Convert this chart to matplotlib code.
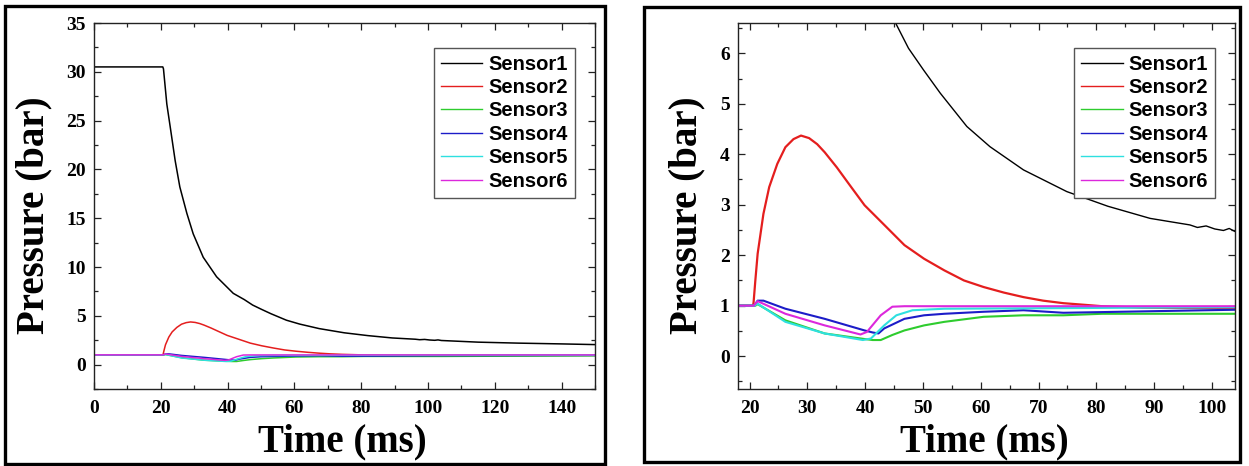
import matplotlib
matplotlib.use("Agg")
import matplotlib.pyplot as plt
from matplotlib.patches import Rectangle
from matplotlib.ticker import MultipleLocator

# ---- data ----
labels = ["Sensor1", "Sensor2", "Sensor3", "Sensor4", "Sensor5", "Sensor6"]
colors = ["#000000", "#e41e1e", "#2ecc2e", "#1c1cc8", "#2ee0e0", "#dc28dc"]

t1 = [0, 20.6, 20.8, 21.8, 22.8, 24.3, 25.7, 27.8, 29.7, 32.7, 36.7, 41.7, 45,
      47.5, 50.1, 53, 57.6, 61.6, 67.4, 74.9, 82, 89.3, 93, 96.2, 97.5, 99,
      100.5, 102, 103, 104, 115, 127, 140, 150]
p1 = [30.5, 30.5, 30.3, 26.7, 24.4, 20.9, 18.2, 15.5, 13.4, 11.0, 9.0, 7.3,
      6.66, 6.1, 5.67, 5.21, 4.55, 4.15, 3.69, 3.26, 2.97, 2.73, 2.66, 2.6,
      2.55, 2.58, 2.52, 2.49, 2.53, 2.47, 2.3, 2.2, 2.12, 2.05]

t2 = [0, 20.6, 20.7, 21.0, 21.4, 22.4, 23.4, 24.8, 26.2, 27.6, 28.9, 30.3,
      31.7, 33.0, 35.1, 37.2, 39.9, 43.4, 46.8, 50.2, 53.7, 57.1, 60.5, 64.0,
      67.4, 70.8, 74.3, 77.7, 81.0, 88.0, 104, 150]
p2 = [1.0, 1.0, 1.07, 1.5, 2.03, 2.82, 3.35, 3.81, 4.14, 4.3, 4.37, 4.32, 4.2,
      4.04, 3.74, 3.41, 2.99, 2.59, 2.2, 1.93, 1.7, 1.5, 1.37, 1.26, 1.17, 1.1,
      1.05, 1.02, 0.99, 0.96, 0.95, 0.95]

t3 = [0, 21.0, 21.4, 26.2, 33.0, 39.9, 41.3, 42.7, 44.7, 46.8, 50.2, 53.7,
      60.5, 67.4, 74.3, 81.0, 104, 150]
p3 = [1.0, 1.0, 1.03, 0.71, 0.45, 0.34, 0.32, 0.32, 0.42, 0.51, 0.61, 0.68,
      0.78, 0.81, 0.81, 0.84, 0.84, 0.9]

t4 = [0, 20.8, 21.4, 22.4, 26.2, 33.0, 39.9, 41.3, 42.3, 43.3, 46.8, 50.2,
      53.7, 60.5, 67.4, 74.3, 104, 150]
p4 = [1.0, 1.0, 1.1, 1.1, 0.94, 0.74, 0.51, 0.47, 0.45, 0.55, 0.74, 0.81,
      0.84, 0.88, 0.91, 0.86, 0.92, 0.95]

t5 = [0, 20.8, 21.4, 26.2, 33.0, 39.6, 41.0, 43.3, 45.4, 48.2, 53.7, 104, 150]
p5 = [1.0, 1.0, 1.04, 0.68, 0.45, 0.32, 0.35, 0.61, 0.81, 0.91, 0.94, 0.97,
      0.97]

t6 = [0, 20.7, 21.4, 26.2, 33.0, 39.2, 40.3, 42.7, 44.7, 46.8, 104, 150]
p6 = [1.0, 1.0, 1.09, 0.84, 0.61, 0.43, 0.48, 0.81, 0.98, 0.99, 0.99, 0.99]

series_t = [t1, t2, t3, t4, t5, t6]
series_p = [p1, p2, p3, p4, p5, p6]

W, H = 1249, 466
fig = plt.figure(figsize=(W / 100, H / 100), dpi=100)

serif = "Liberation Serif"
sans = "Liberation Sans"

# panel frames
fig.patches.append(Rectangle((5 / W, 1 - 464 / H), 600 / W, 458 / H,
                             transform=fig.transFigure, fill=False,
                             lw=2.4, ec="black", zorder=0))
fig.patches.append(Rectangle((644 / W, 1 - 462 / H), 596 / W, 455 / H,
                             transform=fig.transFigure, fill=False,
                             lw=2.4, ec="black", zorder=0))

axL = fig.add_axes([94 / W, 1 - 389 / H, (595 - 94) / W, 366 / H])
axR = fig.add_axes([738 / W, 1 - 389 / H, (1235 - 738) / W, 366 / H])

lwL = [1.1, 1.1, 1.1, 1.1, 1.1, 1.1]
lwR = [1.0, 1.6, 1.5, 1.5, 1.5, 1.5]

for ax, lws in ((axL, lwL), (axR, lwR)):
    for t, p, c, lab, lw in zip(series_t, series_p, colors, labels, lws):
        ax.plot(t, p, color=c, lw=lw, label=lab)

axL.set_xlim(0, 150)
axL.set_ylim(-2.5, 35)
axL.xaxis.set_major_locator(MultipleLocator(20))
axL.xaxis.set_minor_locator(MultipleLocator(10))
axL.yaxis.set_major_locator(MultipleLocator(5))
axL.yaxis.set_minor_locator(MultipleLocator(2.5))

axR.set_xlim(18, 104)
axR.set_ylim(-0.65, 6.6)
axR.xaxis.set_major_locator(MultipleLocator(10))
axR.xaxis.set_minor_locator(MultipleLocator(5))
axR.yaxis.set_major_locator(MultipleLocator(1))
axR.yaxis.set_minor_locator(MultipleLocator(0.5))

for ax, ylx in ((axL, -0.12), (axR, -0.103)):
    for s in ax.spines.values():
        s.set_linewidth(1.0)
        s.set_color("#222222")
    ax.tick_params(which="both", direction="in", top=True, right=True,
                   color="#222222", width=0.9)
    ax.tick_params(which="major", length=5)
    ax.tick_params(which="minor", length=3)
    ax.tick_params(axis="x", which="major", pad=8)
    ax.tick_params(axis="y", which="major", pad=6)
    for lbl in ax.get_xticklabels() + ax.get_yticklabels():
        lbl.set_fontfamily(serif)
        lbl.set_fontweight("bold")
        lbl.set_fontsize(14)
    ax.set_xlabel("Time (ms)", fontfamily=serif, fontweight="bold",
                  fontsize=28)
    ax.set_ylabel("Pressure (bar)", fontfamily=serif, fontweight="bold",
                  fontsize=28)
    ax.xaxis.label.set_va("center")
    ax.yaxis.label.set_va("center")
    ax.xaxis.set_label_coords(0.495, -0.145)
    ax.yaxis.set_label_coords(ylx, 0.475)
    leg = ax.legend(loc="upper right", bbox_to_anchor=(0.96, 0.933),
                    borderaxespad=0, fancybox=False, framealpha=1,
                    edgecolor="#555555", handlelength=2.05,
                    handletextpad=0.3, labelspacing=0.22, borderpad=0.35,
                    prop={"family": sans, "weight": "bold", "size": 14.5})
    leg.get_frame().set_linewidth(1.0)
    for h in leg.get_lines():
        h.set_linewidth(1.0)

fig.savefig("out.png", dpi=100)
